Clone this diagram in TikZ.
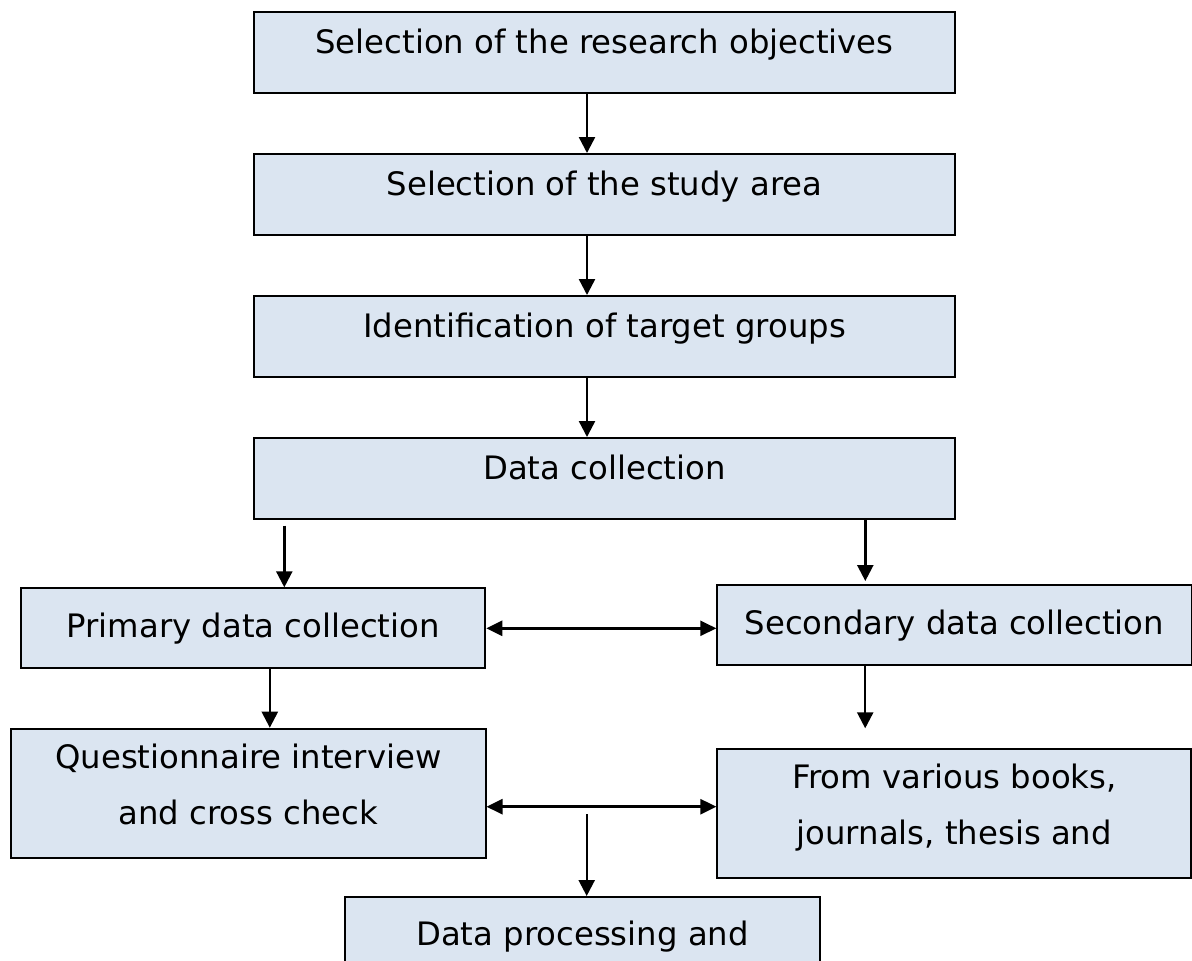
\documentclass[tikz,border=0pt]{standalone}
\usepackage{fontspec}
\setmainfont{DejaVu Sans}
\usetikzlibrary{arrows.meta}
\definecolor{boxblue}{RGB}{219,229,241}
\tikzset{
    stepbox/.style={draw=black, line width=1pt, fill=boxblue, inner xsep=0pt, inner ysep=0pt,
        anchor=north west, align=center, font=\fontsize{16.15}{28}\selectfont},
    flow/.style={line width=1.2pt, -{Triangle[length=8pt,width=8pt]}},
    twoway/.style={line width=1.3pt, {Triangle[length=8pt,width=7.5pt]}-{Triangle[length=8pt,width=7.5pt]}}
}
\begin{document}
\begin{tikzpicture}[x=0.5pt,y=-0.5pt]
    \useasboundingbox (0,0) rectangle (1192,960);
    \clip (0,0) rectangle (1192,960);
    %% main column
    \foreach \n/\y/\txt in {1/11/Selection of the research objectives,
                            2/153/Selection of the study area,
                            3/295/Identification of target groups,
                            4/437/Data collection}
        \node[stepbox, minimum width=350.5pt, text height=20.5pt, text depth=20pt] (b\n) at (253,\y) {\txt};
    \coordinate (mid) at (587,0);
    \foreach \a/\b in {1/2,2/3,3/4}
        \draw[flow] (b\a.south -| mid) -- (b\b.north -| mid);
    %% primary / secondary
    \node[stepbox, minimum width=232.15pt, text height=24.35pt, text depth=15.65pt] (prim) at (20,587.3) {Primary data collection};
    \node[stepbox, minimum width=237.1pt, text height=24.5pt, text depth=15.5pt] (sec) at (716.3,584.3) {Secondary data collection};
    \coordinate (s1) at (284.3,525.7);
    \coordinate (e1) at (865.3,581);
    \draw[flow] (s1) -- (prim.north -| s1);
    \draw[flow] (b4.south -| e1) -- (e1);
    \draw[twoway] (prim.east) -- (prim.east -| sec.west);
    %% sources
    \node[stepbox, minimum width=237.1pt, text height=47.8pt, text depth=16.7pt] (quest) at (10.3,727.7) {Questionnaire interview\\and cross check};
    \node[stepbox, minimum width=236.9pt, text height=47.8pt, text depth=16.7pt] (from) at (716.4,747.7) {From various books,\\journals, thesis and};
    \coordinate (c1) at (269.8,0);
    \coordinate (e2) at (865.2,728.3);
    \coordinate (r2) at (0,806.7);
    \draw[flow] (prim.south -| c1) -- (quest.north -| c1);
    \draw[flow] (sec.south -| e2) -- (e2);
    \draw[twoway] (quest.east |- r2) -- (from.west |- r2);
    %% processing
    \node[stepbox, minimum width=237.1pt, text height=24.15pt, text depth=40pt] (proc) at (344.4,896) {Data processing and};
    \coordinate (s2) at (586.7,814.3);
    \draw[flow] (s2) -- (proc.north -| s2);
\end{tikzpicture}
\end{document}
